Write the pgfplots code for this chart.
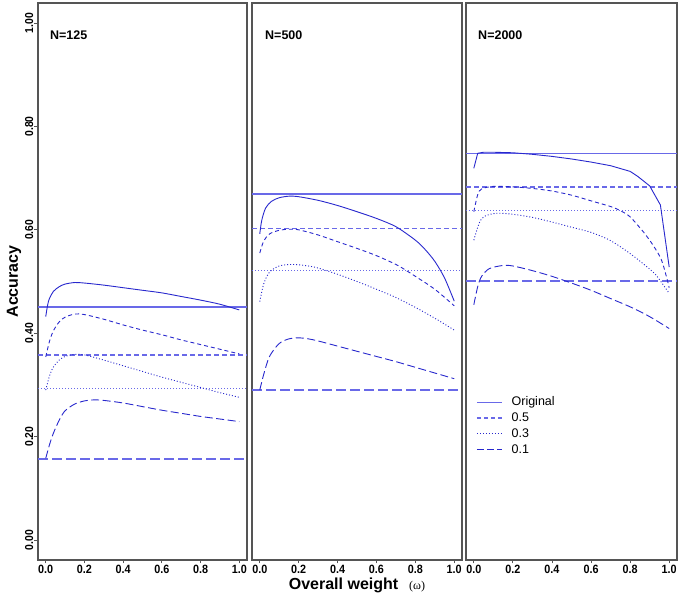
\documentclass[border=0pt]{standalone}
\usepackage{pgfplots}
\pgfplotsset{compat=1.18}
\usepackage{fontspec}
\setmainfont{Liberation Sans}
\newfontfamily\tickfont[FakeStretch=0.9]{Liberation Sans}
\newfontfamily\serifw{Liberation Serif}
\definecolor{curveblue}{RGB}{40,40,205}
\definecolor{refblue}{RGB}{105,105,232}
\definecolor{framegray}{RGB}{85,85,85}

\pgfplotsset{
  panel/.style={
    scale only axis, height=557pt,
    xmin=-0.04, xmax=1.04, ymin=-0.0387, ymax=1.0387,
    axis line style={framegray, line width=1.2pt},
    tick style={framegray, line width=0.8pt},
    tick align=outside, major tick length=3.5pt,
    xtick={0,0.2,0.4,0.6,0.8,1}, xtick pos=bottom,
    /pgf/number format/assume math mode=true,
    xticklabel style={font=\tickfont\bfseries\fontsize{12}{14}\selectfont,
      /pgf/number format/fixed, /pgf/number format/precision=1,
      /pgf/number format/fixed zerofill, inner sep=1pt},
    ytick=\empty,
    clip=true,
  },
  orig/.style={curveblue, line width=0.9pt, forget plot},
  fiveC/.style={curveblue, line width=0.9pt, dash pattern=on 4pt off 3pt, forget plot},
  threeC/.style={curveblue, line width=0.9pt, dash pattern=on 1pt off 2pt, forget plot},
  oneC/.style={curveblue, line width=0.9pt, dash pattern=on 8pt off 3.5pt, forget plot},
  origH/.style={refblue, line width=1.4pt, forget plot},
  fiveH/.style={refblue, line width=1.4pt, dash pattern=on 5pt off 3pt, forget plot},
  threeH/.style={refblue, line width=1.6pt, dash pattern=on 1.4pt off 1.6pt, forget plot},
  oneH/.style={refblue, line width=1.4pt, dash pattern=on 10pt off 4pt, forget plot},
}

\begin{document}
\begin{tikzpicture}[x=1pt,y=1pt]
\path[use as bounding box] (0,0) rectangle (680,599);

% ---------------- N=125 ----------------
\begin{axis}[panel, width=209pt, at={(38pt,39pt)}, anchor=south west,
  ytick={0,0.2,0.4,0.6,0.8,1}, ytick pos=left,
  yticklabel style={rotate=90, anchor=south, inner sep=1pt,
    font=\tickfont\bfseries\fontsize{11.5}{13}\selectfont,
    /pgf/number format/fixed, /pgf/number format/precision=2,
    /pgf/number format/fixed zerofill},
  ylabel={\bfseries\fontsize{16}{19}\selectfont Accuracy},
  ylabel style={at={(axis description cs:-0.115,0.50)}, anchor=center},
]
\addplot[origH] coordinates {(-0.04,0.451) (1.04,0.451)};
\addplot[fiveH] coordinates {(-0.04,0.358) (1.04,0.358)};
\addplot[threeH] coordinates {(-0.04,0.293) (1.04,0.293)};
\addplot[oneH] coordinates {(-0.04,0.157) (1.04,0.157)};
\addplot[orig, smooth] coordinates {(0,0.432) (0.01,0.455) (0.02,0.468) (0.04,0.481) (0.07,0.490) (0.1,0.495) (0.15,0.498) (0.2,0.497) (0.3,0.493) (0.4,0.488) (0.5,0.483) (0.6,0.478) (0.7,0.471) (0.8,0.464) (0.9,0.456) (1.0,0.445)};
\addplot[fiveC, smooth] coordinates {(0,0.354) (0.02,0.385) (0.04,0.405) (0.07,0.422) (0.1,0.431) (0.15,0.437) (0.2,0.436) (0.3,0.427) (0.4,0.416) (0.5,0.406) (0.6,0.397) (0.7,0.387) (0.8,0.378) (0.9,0.369) (1.0,0.360)};
\addplot[threeC, smooth] coordinates {(0,0.290) (0.02,0.318) (0.04,0.335) (0.07,0.348) (0.1,0.355) (0.15,0.359) (0.2,0.358) (0.3,0.348) (0.4,0.337) (0.5,0.326) (0.6,0.315) (0.7,0.305) (0.8,0.295) (0.9,0.285) (1.0,0.276)};
\addplot[oneC, smooth] coordinates {(0,0.158) (0.02,0.185) (0.04,0.207) (0.07,0.232) (0.1,0.250) (0.15,0.263) (0.2,0.269) (0.25,0.271) (0.3,0.270) (0.4,0.265) (0.5,0.258) (0.6,0.251) (0.7,0.245) (0.8,0.239) (0.9,0.234) (1.0,0.229)};
\node[anchor=west, inner sep=0pt, font=\bfseries\fontsize{12.5}{14}\selectfont] at (axis description cs:0.057,0.9425) {N=125};
\end{axis}

% ---------------- N=500 ----------------
\begin{axis}[panel, width=210pt, at={(252pt,39pt)}, anchor=south west,
  xlabel={{\bfseries\fontsize{16}{19}\selectfont Overall weight}\hspace{11pt}{\serifw\fontsize{12}{14}\selectfont(ω)}},
  xlabel style={at={(axis description cs:0.5,-0.046)}, anchor=center, inner sep=0pt},
]
\addplot[origH] coordinates {(-0.04,0.669) (1.04,0.669)};
\addplot[fiveH] coordinates {(-0.04,0.602) (1.04,0.602)};
\addplot[threeH] coordinates {(-0.04,0.521) (1.04,0.521)};
\addplot[oneH] coordinates {(-0.04,0.290) (1.04,0.290)};
\addplot[orig, smooth] coordinates {(0,0.592) (0.01,0.618) (0.03,0.642) (0.06,0.655) (0.1,0.662) (0.15,0.665) (0.2,0.664) (0.3,0.657) (0.4,0.647) (0.5,0.635) (0.6,0.622) (0.7,0.606) (0.8,0.580) (0.85,0.562) (0.9,0.539) (0.95,0.507) (1.0,0.462)};
\addplot[fiveC, smooth] coordinates {(0,0.555) (0.02,0.578) (0.05,0.592) (0.1,0.599) (0.15,0.601) (0.2,0.600) (0.3,0.590) (0.4,0.577) (0.5,0.564) (0.6,0.550) (0.7,0.533) (0.75,0.522) (0.8,0.510) (0.9,0.485) (1.0,0.453)};
\addplot[threeC, smooth] coordinates {(0,0.461) (0.02,0.495) (0.05,0.518) (0.1,0.530) (0.17,0.533) (0.25,0.530) (0.3,0.526) (0.4,0.514) (0.5,0.500) (0.6,0.485) (0.7,0.469) (0.8,0.450) (0.9,0.429) (1.0,0.406)};
\addplot[oneC, smooth] coordinates {(0,0.290) (0.02,0.320) (0.05,0.355) (0.1,0.380) (0.15,0.389) (0.2,0.391) (0.25,0.389) (0.3,0.385) (0.4,0.375) (0.5,0.365) (0.6,0.355) (0.7,0.345) (0.8,0.334) (0.9,0.323) (1.0,0.312)};
\node[anchor=west, inner sep=0pt, font=\bfseries\fontsize{12.5}{14}\selectfont] at (axis description cs:0.062,0.9425) {N=500};
\end{axis}

% ---------------- N=2000 ----------------
\begin{axis}[panel, width=211pt, at={(466pt,39pt)}, anchor=south west,
  legend style={at={(axis description cs:0.048,0.294)}, anchor=north west,
    draw=none, fill=none, inner sep=0pt, row sep=4.5pt, column sep=4pt,
    font=\fontsize{12.5}{14}\selectfont,
    nodes={inner xsep=5pt, inner ysep=0.5pt}},
  legend cell align=left,
  legend image code/.code={\draw[#1] (0pt,0pt) -- (25pt,0pt);},
]
\addplot[origH] coordinates {(-0.04,0.747) (1.04,0.747)};
\addplot[fiveH] coordinates {(-0.04,0.683) (1.04,0.683)};
\addplot[threeH] coordinates {(-0.04,0.637) (1.04,0.637)};
\addplot[oneH] coordinates {(-0.04,0.501) (1.04,0.501)};
\addplot[orig] coordinates {(0,0.719) (0.02,0.748) (0.05,0.750) (0.1,0.750) (0.2,0.749) (0.3,0.746) (0.4,0.742) (0.5,0.737) (0.6,0.731) (0.7,0.724) (0.8,0.713) (0.84,0.703) (0.9,0.685) (0.955,0.648) (1.0,0.528)};
\addplot[fiveC, smooth] coordinates {(0,0.635) (0.02,0.668) (0.04,0.679) (0.1,0.684) (0.2,0.683) (0.3,0.680) (0.4,0.675) (0.5,0.667) (0.6,0.656) (0.7,0.645) (0.75,0.637) (0.8,0.625) (0.87,0.595) (0.9,0.580) (0.96,0.542) (1.0,0.488)};
\addplot[threeC, smooth] coordinates {(0,0.580) (0.03,0.615) (0.06,0.627) (0.12,0.632) (0.2,0.630) (0.3,0.624) (0.4,0.615) (0.5,0.605) (0.6,0.595) (0.7,0.579) (0.8,0.554) (0.9,0.524) (0.94,0.509) (1.0,0.477)};
\addplot[oneC, smooth] coordinates {(0,0.455) (0.02,0.490) (0.04,0.510) (0.08,0.525) (0.15,0.531) (0.2,0.530) (0.3,0.521) (0.4,0.510) (0.5,0.497) (0.6,0.483) (0.7,0.467) (0.8,0.451) (0.9,0.432) (1.0,0.409)};
\node[anchor=west, inner sep=0pt, font=\bfseries\fontsize{12.5}{14}\selectfont] at (axis description cs:0.057,0.9425) {N=2000};
\addlegendimage{refblue, line width=1.3pt}
\addlegendentry{Original}
\addlegendimage{refblue, line width=1.3pt, dash pattern=on 4pt off 3pt}
\addlegendentry{0.5}
\addlegendimage{curveblue, line width=0.9pt, dash pattern=on 1pt off 2pt}
\addlegendentry{0.3}
\addlegendimage{curveblue, line width=1.1pt, dash pattern=on 7pt off 3pt}
\addlegendentry{0.1}
\end{axis}
\end{tikzpicture}
\end{document}
